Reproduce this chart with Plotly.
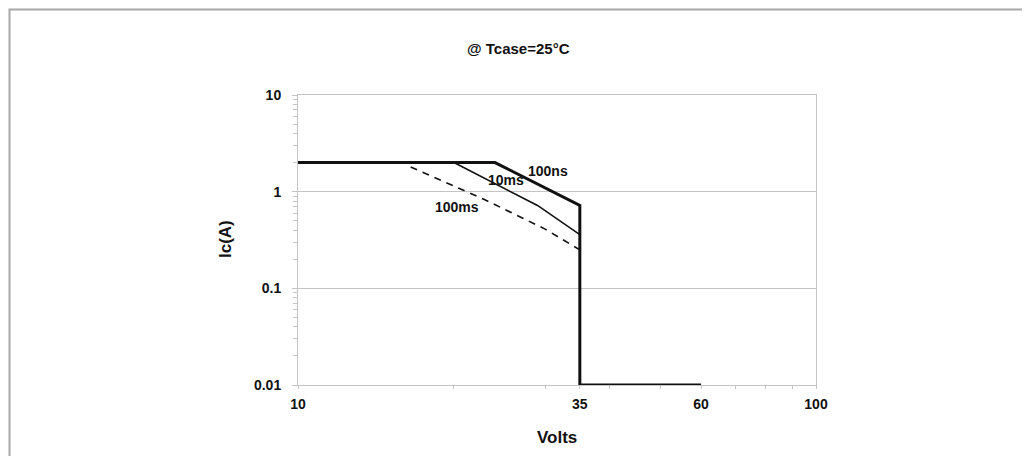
import math
import plotly.graph_objects as go

# ---- data ----
volts_100ns = [10, 24, 35, 35, 60]
amps_100ns = [2, 2, 0.72, 0.01, 0.01]

volts_10ms = [20, 29, 35]
amps_10ms = [2, 0.72, 0.36]

volts_100ms = [16.5, 23, 30, 35]
amps_100ms = [1.8, 0.82, 0.41, 0.25]

x_tickvals = [10, 35, 60, 100]
x_ticktext = ["10", "35", "60", "100"]
x_minor = [20, 30, 40, 50, 70, 80, 90]
y_tickvals = [0.01, 0.1, 1, 10]
y_ticktext = ["0.01", "0.1", "1", "10"]
y_minor = [m * d for d in (0.01, 0.1, 1) for m in range(2, 10)]

curve_labels = [("100ns", 30.4, 1.63), ("10ms", 25.2, 1.31), ("100ms", 20.3, 0.69)]

FONT = "Liberation Sans, Arial, sans-serif"
GRID = "#c4c4c4"
INK = "#111111"

fig = go.Figure()
fig.add_trace(go.Scatter(x=volts_100ms, y=amps_100ms, mode="lines",
                         line=dict(color=INK, width=1.6, dash="7px,6px"),
                         cliponaxis=False, hoverinfo="skip"))
fig.add_trace(go.Scatter(x=volts_10ms, y=amps_10ms, mode="lines",
                         line=dict(color=INK, width=1.6),
                         cliponaxis=False, hoverinfo="skip"))
fig.add_trace(go.Scatter(x=volts_100ns, y=amps_100ns, mode="lines",
                         line=dict(color=INK, width=3),
                         cliponaxis=False, hoverinfo="skip"))

# page has an 8px body margin, so the figure's origin sits at (8, 8)
OFF = 8
W, H = 1030 - OFF, 456 - OFF
L, R, T, B = 298 - OFF, 1030 - 816, 95 - OFF, 456 - 385
pw, ph = W - L - R, H - T - B


def px(x):
    return (x - OFF - L) / pw


def py(y):
    return (T + ph - (y - OFF)) / ph


annotations = []
for txt, xv, yv in curve_labels:
    annotations.append(dict(x=math.log10(xv), y=math.log10(yv), xref="x", yref="y",
                            text=txt, showarrow=False, xanchor="center", yanchor="middle",
                            font=dict(family=FONT, size=14, color=INK, weight="bold")))
annotations.append(dict(x=px(518), y=py(49), xref="paper", yref="paper",
                        text="@ Tcase=25°C", showarrow=False, xanchor="center", yanchor="middle",
                        font=dict(family=FONT, size=15, color=INK, weight="bold")))
annotations.append(dict(x=px(557), y=py(437), xref="paper", yref="paper",
                        text="Volts", showarrow=False, xanchor="center", yanchor="middle",
                        font=dict(family=FONT, size=17, color=INK, weight="bold")))
annotations.append(dict(x=px(225), y=py(239), xref="paper", yref="paper",
                        text="Ic(A)", showarrow=False, textangle=-90,
                        xanchor="center", yanchor="middle",
                        font=dict(family=FONT, size=17, color=INK, weight="bold")))

fig.update_layout(
    width=W, height=H,
    margin=dict(l=L, r=R, t=T, b=B, pad=0),
    paper_bgcolor="white", plot_bgcolor="white",
    showlegend=False,
    annotations=annotations,
    shapes=[dict(type="rect", xref="paper", yref="paper",
                 x0=px(9.5), x1=px(1023), y0=py(470), y1=py(9.5),
                 line=dict(color="#a8a8a8", width=2), layer="below")],
)
fig.update_xaxes(type="log", range=[1, 2], tickmode="array",
                 tickvals=x_tickvals, ticktext=x_ticktext,
                 ticks="outside", ticklen=3, tickcolor=GRID,
                 showgrid=False, zeroline=False,
                 showline=True, linecolor=GRID, linewidth=1, mirror=True,
                 ticklabelstandoff=3,
                 tickfont=dict(family=FONT, size=14, color=INK, weight="bold"),
                 minor=dict(tickmode="array", tickvals=x_minor, ticks="outside",
                            ticklen=3, tickcolor=GRID, showgrid=False))
fig.update_yaxes(type="log", range=[-2, 1], tickmode="array",
                 tickvals=y_tickvals, ticktext=y_ticktext,
                 ticks="outside", ticklen=5, tickcolor=GRID,
                 showgrid=True, gridcolor=GRID, gridwidth=1, zeroline=False,
                 showline=True, linecolor=GRID, linewidth=1, mirror=True,
                 ticklabelstandoff=8,
                 tickfont=dict(family=FONT, size=14, color=INK, weight="bold"),
                 minor=dict(tickmode="array", tickvals=y_minor, ticks="outside",
                            ticklen=4, tickcolor=GRID, showgrid=False))

fig.write_html("out.html")
